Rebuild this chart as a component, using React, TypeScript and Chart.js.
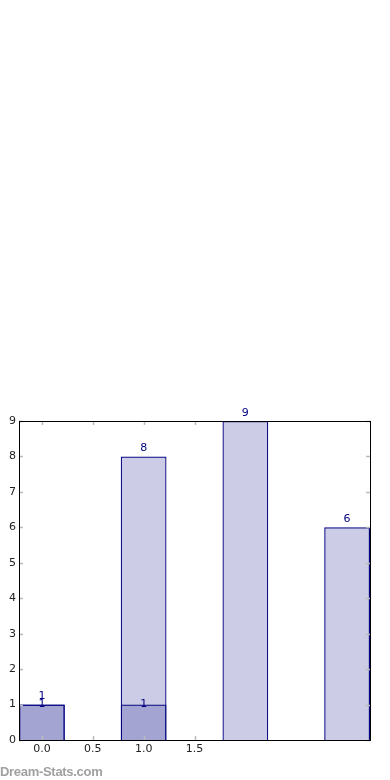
import React, { useEffect, useRef } from "react";
import { Chart, registerables } from "chart.js";

Chart.register(...registerables);

// Data
const barPositions = [0, 1, 2, 3];
const seriesA = [1, 8, 9, 6];
const overlayPositions = [0, 1];
const seriesB = [1, 1];
const xTickValues = [0, 0.5, 1, 1.5];
const yTickValues = [0, 1, 2, 3, 4, 5, 6, 7, 8, 9];

const NAVY = "#000080";
const FILL = "rgba(0,0,128,0.2)";
const FONT = "DejaVu Sans";

const framePlugin = {
  id: "frameTicks",
  afterDatasetsDraw(chart: any) {
    const { ctx, chartArea } = chart;
    const { left, right, top, bottom } = chartArea;
    const xs = chart.scales.x;
    const ys = chart.scales.y;
    ctx.save();
    // inner tick marks
    ctx.strokeStyle = "#bbbbbb";
    ctx.lineWidth = 1.5;
    const len = 4;
    ctx.beginPath();
    xTickValues.forEach((v) => {
      const px = Math.round(xs.getPixelForValue(v)) + 0.5;
      ctx.moveTo(px, bottom);
      ctx.lineTo(px, bottom - len);
      ctx.moveTo(px, top);
      ctx.lineTo(px, top + len);
    });
    yTickValues.forEach((v) => {
      const py = Math.round(ys.getPixelForValue(v)) + 0.5;
      ctx.moveTo(left, py);
      ctx.lineTo(left + len, py);
      ctx.moveTo(right, py);
      ctx.lineTo(right - len, py);
    });
    ctx.stroke();
    // frame
    ctx.strokeStyle = "#000000";
    ctx.lineWidth = 1;
    ctx.strokeRect(Math.round(left) + 0.5, Math.round(top) + 0.5, Math.round(right - left), Math.round(bottom - top));
    // value labels
    ctx.fillStyle = NAVY;
    ctx.font = `11px "${FONT}"`;
    ctx.textAlign = "center";
    ctx.textBaseline = "middle";
    const offsets = [8, 0];
    chart.data.datasets.forEach((ds: any, di: number) => {
      const meta = chart.getDatasetMeta(di);
      meta.data.forEach((el: any, i: number) => {
        const val = ds.data[i].y;
        ctx.fillText(String(val), el.x, el.y - offsets[di]);
      });
    });
    ctx.restore();
  },
};

export default function App() {
  const canvasRef = useRef<HTMLCanvasElement | null>(null);

  useEffect(() => {
    if (!canvasRef.current) return;
    const chart = new Chart(canvasRef.current, {
      type: "bar",
      data: {
        datasets: [
          {
            data: barPositions.map((x, i) => ({ x, y: seriesA[i] })),
            backgroundColor: FILL,
            borderColor: NAVY,
            borderWidth: 1.2,
            barPercentage: 0.9,
            categoryPercentage: 1,
            grouped: false,
          } as any,
          {
            data: overlayPositions.map((x, i) => ({ x, y: seriesB[i] })),
            backgroundColor: FILL,
            borderColor: NAVY,
            borderWidth: 1.2,
            barPercentage: 0.9,
            categoryPercentage: 1,
            grouped: false,
          } as any,
        ],
      },
      options: {
        responsive: false,
        devicePixelRatio: 1,
        animation: false,
        layout: { padding: { left: 0, top: 421, right: 20, bottom: 0 } },
        plugins: {
          legend: { display: false },
          tooltip: { enabled: false },
        },
        scales: {
          x: {
            type: "linear",
            offset: false,
            min: -0.225,
            max: 3.225,
            grid: { display: false, drawTicks: false, offset: false },
            border: { display: false },
            ticks: {
              color: "#222222",
              font: { family: FONT, size: 11 },
              padding: 3,
              callback: (v: any) => Number(v).toFixed(1),
            },
            afterBuildTicks: (s: any) => {
              s.ticks = xTickValues.map((v) => ({ value: v }));
            },
            afterFit: (s: any) => {
              s.height = 40;
            },
          },
          y: {
            type: "linear",
            min: 0,
            max: 9,
            grid: { display: false, drawTicks: false },
            border: { display: false },
            ticks: {
              color: "#222222",
              font: { family: FONT, size: 11 },
              padding: 3,
              stepSize: 1,
            },
            afterBuildTicks: (s: any) => {
              s.ticks = yTickValues.map((v) => ({ value: v }));
            },
            afterFit: (s: any) => {
              s.width = 19;
            },
          },
        },
      } as any,
      plugins: [framePlugin],
    });
    return () => chart.destroy();
  }, []);

  return (
    <div style={{ position: "absolute", left: 0, top: 0, width: 390, height: 780, background: "#ffffff" }}>
      <canvas ref={canvasRef} width={390} height={780} style={{ display: "block" }} />
      <div
        style={{
          position: "absolute",
          left: 0,
          top: 764,
          fontFamily: '"Liberation Sans", Arial, sans-serif',
          fontWeight: "bold",
          fontSize: 13,
          letterSpacing: -0.3,
          color: "#a0a0a0",
          whiteSpace: "nowrap",
          lineHeight: "15px",
        }}
      >
        Dream-Stats.com
      </div>
    </div>
  );
}
